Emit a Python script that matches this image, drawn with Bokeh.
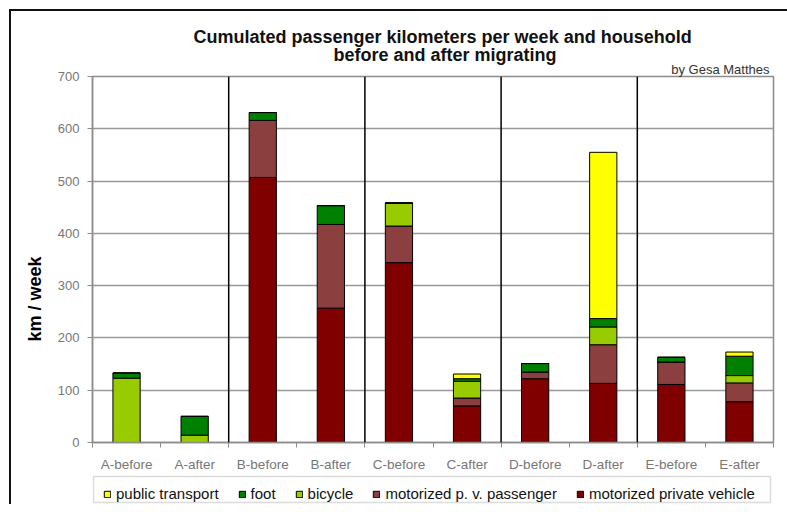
import math
from bokeh.plotting import figure
from bokeh.layouts import column
from bokeh.models import (Range1d, FixedTicker, Span, Title, Legend, LegendItem,
                          ColumnDataSource, BoxAnnotation)
from bokeh.embed import file_html
from bokeh.resources import INLINE

categories = ["A-before", "A-after", "B-before", "B-after", "C-before",
              "C-after", "D-before", "D-after", "E-before", "E-after"]
mpv = [0, 0, 507, 257, 344, 70, 122, 113, 111, 78]
passenger = [0, 0, 109, 160, 70, 15, 13, 74, 43, 36]
bicycle = [123, 14, 0, 0, 44, 32, 0, 34, 0, 14]
foot = [10, 36, 15, 36, 0, 5, 16, 16, 9, 37]
public = [0, 0, 0, 0, 0, 9, 0, 318, 0, 8]
y_ticks = [0, 100, 200, 300, 400, 500, 600, 700]

series_keys = ["mpv", "passenger", "bicycle", "foot", "public"]
series_names = ["motorized private vehicle", "motorized p. v. passenger",
                "bicycle", "foot", "public transport"]
colors = ["#800000", "#8C3F3F", "#99CC00", "#008000", "#FFFF00"]

xpos = [i + 0.5 for i in range(len(categories))]
src = ColumnDataSource(dict(x=xpos, mpv=mpv, passenger=passenger,
                            bicycle=bicycle, foot=foot, public=public))

FONT = "Liberation Sans"

p = figure(frame_width=681, frame_height=366, output_backend="svg", toolbar_location=None,
           x_range=Range1d(0, len(categories)), y_range=Range1d(0, 700),
           min_border_left=81, min_border_top=65, min_border_right=14,
           min_border_bottom=31)
p.title.visible = False
p.background_fill_color = "white"
p.border_fill_color = "white"
p.outline_line_color = "#8c8c8c"
p.outline_line_width = 1.5

renderers = p.vbar_stack(series_keys, x="x", width=0.4, source=src,
                         fill_color=colors, line_color="black", line_width=1)

# axes
p.xaxis.ticker = FixedTicker(ticks=xpos, minor_ticks=list(range(len(categories) + 1)))
p.xaxis.major_label_overrides = {x: c for x, c in zip(xpos, categories)}
p.xaxis.major_tick_line_color = None
p.xaxis.major_tick_out = 5
p.xaxis.major_tick_in = 0
p.xaxis.minor_tick_out = 5
p.xaxis.minor_tick_in = 0
p.xaxis.minor_tick_line_color = "#8c8c8c"
p.xaxis.axis_line_color = "#8c8c8c"
p.xaxis.axis_line_width = 1.5
p.xaxis.major_label_standoff = 9
p.xaxis.major_label_text_font = FONT
p.xaxis.major_label_text_font_size = "13.5px"
p.xaxis.major_label_text_color = "#777777"

p.yaxis.ticker = FixedTicker(ticks=y_ticks)
p.yaxis.minor_tick_line_color = None
p.yaxis.major_tick_out = 5
p.yaxis.major_tick_in = 0
p.yaxis.major_tick_line_color = "#8c8c8c"
p.yaxis.axis_line_color = "#8c8c8c"
p.yaxis.axis_line_width = 1.5
p.yaxis.major_label_standoff = 8
p.yaxis.major_label_text_font = FONT
p.yaxis.major_label_text_font_size = "13px"
p.yaxis.major_label_text_color = "#777777"

p.xgrid.grid_line_color = None
p.ygrid.grid_line_color = "#999999"
p.ygrid.grid_line_width = 1.5

# group separators
for i in range(1, len(categories)):
    if categories[i][0] != categories[i - 1][0]:
        p.add_layout(Span(location=i, dimension="height", line_color="black",
                          line_width=1.5))

# titles (added nearest-first)
p.add_layout(Title(text="by Gesa Matthes", align="right", offset=4, standoff=0,
                   text_font=FONT, text_font_size="13px", text_font_style="normal",
                   text_color="#333333"), "above")
p.add_layout(Title(text="before and after migrating", align="left", offset=241,
                   standoff=-10, text_font=FONT, text_font_size="18px",
                   text_font_style="bold", text_color="#111111"), "above")
p.add_layout(Title(text="Cumulated passenger kilometers per week and household",
                   align="left", offset=101, standoff=2, text_font=FONT,
                   text_font_size="18px", text_font_style="bold",
                   text_color="#111111"), "above")
p.add_layout(Title(text="km / week", align="left", offset=101, standoff=19,
                   text_font=FONT, text_font_size="18px", text_font_style="bold",
                   text_color="black"), "left")

# legend in its own strip below the chart (its frame aligns with the chart's frame)
lg = figure(width=776, height=30, output_backend="svg", toolbar_location=None,
            x_range=Range1d(0, 1), y_range=Range1d(0, 1),
            x_axis_location=None, y_axis_location=None,
            min_border=0, outline_line_color=None)
lg.grid.visible = False
lg.title.visible = False
placeholder = ColumnDataSource(dict(x=[float("nan")], top=[float("nan")]))
dummies = [lg.vbar(x="x", top="top", width=0.1, source=placeholder, fill_color=c,
                   line_color="black", line_width=1) for c in colors]
lg.add_layout(BoxAnnotation(left=1, right=678, bottom=2, top=28,
                            left_units="screen", right_units="screen",
                            bottom_units="screen", top_units="screen",
                            fill_color=None, line_color="#8c8c8c", line_width=1.5))
order = [4, 3, 2, 1, 0]
items = [LegendItem(label=series_names[i], renderers=[dummies[i]]) for i in order]
legend = Legend(items=items, orientation="horizontal", location=(11, 2),
                glyph_width=8, glyph_height=8, label_standoff=5, spacing=19,
                padding=5, margin=0, label_text_font=FONT,
                label_text_font_size="15px", label_height=16,
                label_text_color="#111111",
                border_line_color=None, background_fill_alpha=0)
lg.add_layout(legend, "center")

layout = column(p, lg, spacing=0, margin=(9, 0, 0, 9),
                styles={"border-left": "2px solid #111111",
                        "border-top": "2px solid #111111"})

open("out.html", "w").write(file_html(layout, INLINE))
